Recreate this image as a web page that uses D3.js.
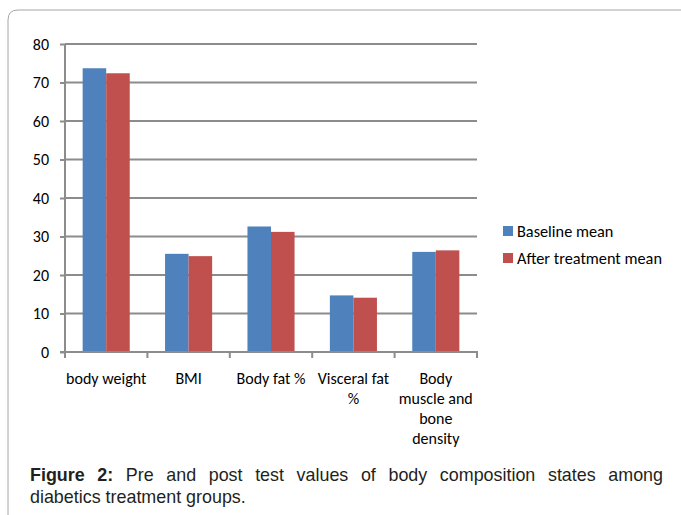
<!DOCTYPE html>
<html>
<head>
<meta charset="utf-8">
<script src="https://cdn.jsdelivr.net/npm/d3@7"></script>
<style>
  body { margin: 0; background: #fff; }
  svg { display: block; }
</style>
</head>
<body>
<svg id="chart"></svg>
<script>
// Data
const categories = ["body weight", "BMI", "Body fat %", "Visceral fat %", "Body muscle and bone density"];
const categoryLines = [["body weight"], ["BMI"], ["Body fat %"], ["Visceral fat", "%"], ["Body", "muscle and", "bone", "density"]];
const seriesNames = ["Baseline mean", "After treatment mean"];
const baseline = [73.7, 25.5, 32.6, 14.7, 26.0];
const afterTreatment = [72.4, 24.9, 31.2, 14.1, 26.4];
const yTicks = [0, 10, 20, 30, 40, 50, 60, 70, 80];
const colors = ["#4f81bd", "#c0504d"];

const width = 681, height = 515;
const labelFont = "Carlito, 'Open Sans', 'Liberation Sans', sans-serif";

const svg = d3.select("#chart").attr("width", width).attr("height", height);

// Outer frame (rounded top-left corner)
svg.append("path")
    .attr("d", "M8,515 L8,20 Q8,10 18,10 L681,10")
    .attr("fill", "none")
    .attr("stroke", "#a6a6a6")
    .attr("stroke-width", 1);

const x = d3.scaleBand().domain(categories).range([65, 477]).paddingInner(0).paddingOuter(0);
const x1 = d3.scaleBand().domain(seriesNames).range([0, x.bandwidth()]).paddingInner(0).paddingOuter(0.75);
const y = d3.scaleLinear().domain([0, 80]).range([352, 44]);

// Gridlines
svg.append("g")
    .selectAll("line")
    .data(yTicks.filter(d => d > 0))
    .join("line")
    .attr("x1", 65).attr("x2", 477)
    .attr("y1", d => y(d)).attr("y2", d => y(d))
    .attr("stroke", "#8c8c8c").attr("stroke-width", 2);

// Bars
const groups = svg.append("g")
    .selectAll("g")
    .data(categories.map((c, i) => ({ c, vals: [baseline[i], afterTreatment[i]] })))
    .join("g")
    .attr("transform", d => `translate(${x(d.c)},0)`);

groups.selectAll("rect")
    .data(d => d.vals.map((v, j) => ({ v, s: seriesNames[j], j })))
    .join("rect")
    .attr("x", d => x1(d.s))
    .attr("width", x1.bandwidth())
    .attr("y", d => y(d.v))
    .attr("height", d => y(0) - y(d.v))
    .attr("fill", d => colors[d.j]);

// Y axis
const yAxis = svg.append("g")
    .attr("transform", "translate(65,0)")
    .call(d3.axisLeft(y).tickValues(yTicks).tickSize(5).tickPadding(11));
yAxis.select(".domain").attr("stroke", "#8c8c8c").attr("stroke-width", 2).attr("d", `M0,${y(80)}V${y(0)}`);
yAxis.selectAll(".tick line").attr("stroke", "#8c8c8c").attr("stroke-width", 2);
yAxis.selectAll(".tick text").attr("font-family", labelFont).attr("font-size", 16).attr("fill", "#000");

// X axis
const xAxisG = svg.append("g").attr("transform", `translate(0,${y(0)})`);
xAxisG.append("line")
    .attr("x1", 60).attr("x2", 478)
    .attr("stroke", "#8c8c8c").attr("stroke-width", 2);
xAxisG.selectAll(".xt")
    .data(categories.map(c => x(c)).concat([x.range()[1]]))
    .join("line")
    .attr("class", "xt")
    .attr("x1", d => d).attr("x2", d => d)
    .attr("y1", 0).attr("y2", 6)
    .attr("stroke", "#8c8c8c").attr("stroke-width", 2);

// Category labels
categories.forEach((c, i) => {
    const t = svg.append("text")
        .attr("text-anchor", "middle")
        .attr("font-family", labelFont)
        .attr("font-size", 16)
        .attr("fill", "#000");
    categoryLines[i].forEach((ln, k) => {
        t.append("tspan")
            .attr("x", x(c) + x.bandwidth() / 2)
            .attr("y", 384 + k * 20)
            .text(ln);
    });
});

// Legend
const legend = svg.append("g")
    .selectAll("g")
    .data(seriesNames)
    .join("g")
    .attr("transform", (d, i) => `translate(503,${226 + i * 27})`);
legend.append("rect").attr("width", 10).attr("height", 10).attr("fill", (d, i) => colors[i]);
legend.append("text")
    .attr("x", 14).attr("y", 10.5)
    .attr("font-family", labelFont)
    .attr("font-size", 16.3)
    .attr("fill", "#000")
    .text(d => d);

// Caption (first line justified by word spacing, condensed horizontally)
const capFont = "'Liberation Sans Narrow', 'Arial Narrow', 'Liberation Sans', Arial, sans-serif";
const capWords = ["Figure", "2:", "Pre", "and", "post", "test", "values", "of", "body", "composition", "states", "among"];
const capBold = 2;
const capLeft = 30, capRight = 663, line2Width = 216;
const cap = svg.append("g");
const line2 = cap.append("text")
    .attr("y", 503)
    .attr("font-family", capFont)
    .attr("font-size", 18.5)
    .attr("fill", "#231f20")
    .text("diabetics treatment groups.");
const k = line2Width / line2.node().getComputedTextLength();
cap.attr("transform", `translate(${capLeft},0) scale(${k},1)`);
const wordNodes = capWords.map((w, i) => cap.append("text")
    .attr("y", 481)
    .attr("font-family", capFont)
    .attr("font-size", 18.5)
    .attr("font-weight", i < capBold ? "bold" : "normal")
    .attr("fill", "#231f20")
    .text(w));
const widths = wordNodes.map(n => n.node().getComputedTextLength());
const gap = ((capRight - capLeft) / k - d3.sum(widths)) / (capWords.length - 1);
let cx = 0;
wordNodes.forEach((n, i) => {
    n.attr("x", cx);
    cx += widths[i] + gap;
});
</script>
</body>
</html>
